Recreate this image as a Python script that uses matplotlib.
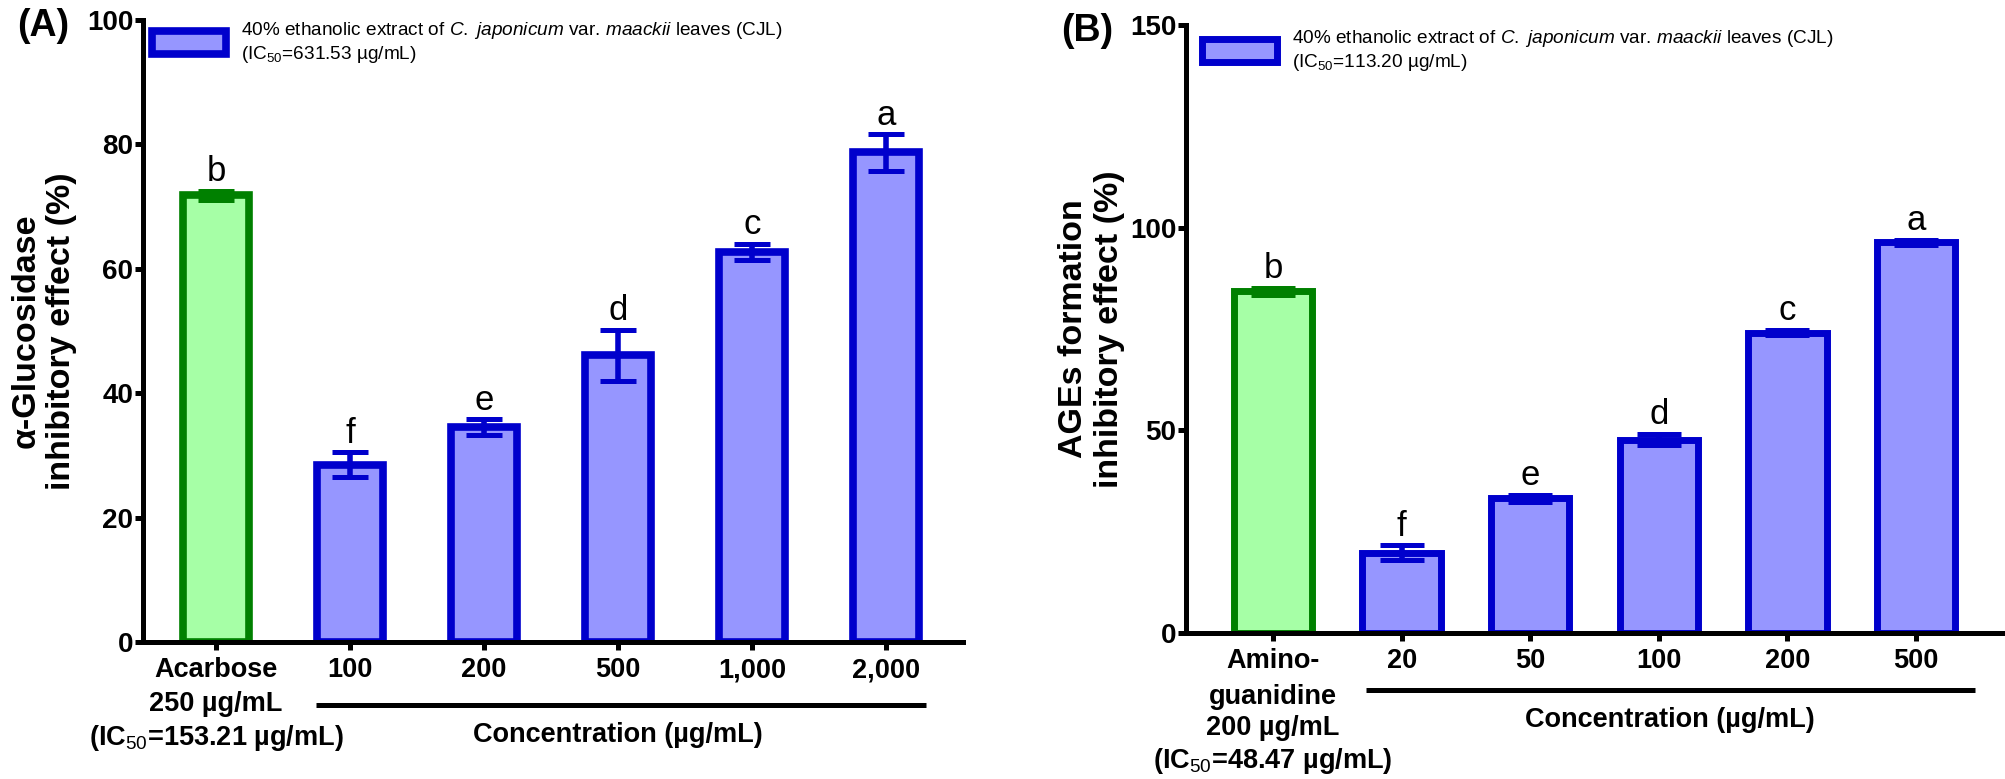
import matplotlib
matplotlib.use("Agg")
import matplotlib.pyplot as plt
from matplotlib.transforms import blended_transform_factory

plt.rcParams['font.family'] = ['Liberation Sans', 'DejaVu Sans']
plt.rcParams['mathtext.fontset'] = 'custom'
plt.rcParams['mathtext.rm'] = 'Liberation Sans'
plt.rcParams['mathtext.it'] = 'Liberation Sans:italic'
plt.rcParams['mathtext.bf'] = 'Liberation Sans:bold'

# panel A: alpha-glucosidase
a_ticks = ['Acarbose', '100', '200', '500', '1,000', '2,000']
a_sub = '250 µg/mL\n(IC$_{50}$=153.21 µg/mL)'
a_mean = [71.8, 28.5, 34.5, 46.1, 62.7, 78.7]
a_sd = [0.7, 2.0, 1.3, 4.1, 1.3, 2.9]
a_letters = ['b', 'f', 'e', 'd', 'c', 'a']
a_legend = ('40% ethanolic extract of $\\mathit{C.}$ $\\mathit{japonicum}$ var. '
            '$\\mathit{maackii}$ leaves (CJL)\n(IC$_{50}$=631.53 µg/mL)')

# panel B: AGEs formation
b_ticks = ['Amino-', '20', '50', '100', '200', '500']
b_sub = 'guanidine\n200 µg/mL\n(IC$_{50}$=48.47 µg/mL)'
b_mean = [84.3, 19.8, 33.2, 47.7, 74.1, 96.4]
b_sd = [0.8, 1.8, 0.9, 1.4, 0.6, 0.6]
b_letters = ['b', 'f', 'e', 'd', 'c', 'a']
b_legend = ('40% ethanolic extract of $\\mathit{C.}$ $\\mathit{japonicum}$ var. '
            '$\\mathit{maackii}$ leaves (CJL)\n(IC$_{50}$=113.20 µg/mL)')

green_fill, green_edge = '#a6ffa6', '#008000'
blue_fill, blue_edge = '#9696ff', '#0000cc'


def panel(ax, ticks, sub, mean, sd, letters, legtxt, ylabel, yticks, xlim,
          width, lw, capsize, sub_y, under, conc, leg_anchor, ylab_x):
    x = list(range(len(mean)))
    ax.bar(x[:1], mean[:1], width, color=green_fill, edgecolor=green_edge, linewidth=lw, zorder=2)
    bars = ax.bar(x[1:], mean[1:], width, color=blue_fill, edgecolor=blue_edge, linewidth=lw,
                  zorder=2, label=legtxt)
    ax.errorbar(x[:1], mean[:1], yerr=sd[:1], fmt='none', ecolor=green_edge,
                elinewidth=4, capsize=capsize, capthick=3.6, zorder=3)
    ax.errorbar(x[1:], mean[1:], yerr=sd[1:], fmt='none', ecolor=blue_edge,
                elinewidth=4, capsize=capsize, capthick=3.6, zorder=3)
    for i in x:
        ax.annotate(letters[i], (i, mean[i] + sd[i]), xytext=(0, 7), textcoords='offset points',
                    ha='center', va='baseline', fontsize=25)

    ax.set_xlim(*xlim)
    ax.set_ylim(yticks[0], yticks[-1])
    ax.set_yticks(yticks)
    ax.set_xticks(x)
    ax.set_xticklabels(ticks, fontsize=19.5, fontweight='bold')
    for t in ax.get_yticklabels():
        t.set_fontsize(20)
        t.set_fontweight('bold')
    ax.tick_params(axis='x', length=6, width=3.6, pad=5)
    ax.tick_params(axis='y', length=6, width=3.6, pad=1)
    for s in ['top', 'right']:
        ax.spines[s].set_visible(False)
    for s in ['left', 'bottom']:
        ax.spines[s].set_linewidth(3.6)

    ax.set_ylabel(ylabel, fontsize=24.5, fontweight='bold')
    ax.yaxis.set_label_coords(ylab_x, 0.5)

    tr = blended_transform_factory(ax.transData, ax.transAxes)
    # rest of the control's label, below its tick label
    ax.text(x[0], sub_y, sub, transform=tr, ha='center', va='center', fontsize=19.5,
            fontweight='bold', linespacing=1.25, multialignment='center')
    # bracket line + "Concentration" label under the extract bars
    ax.plot([under[0], under[1]], [under[2], under[2]], color='black', lw=3.6,
            transform=tr, clip_on=False, solid_capstyle='butt')
    ax.text(conc[0], conc[1], 'Concentration (µg/mL)', transform=tr, ha='center', va='center',
            fontsize=19.5, fontweight='bold')

    ax.legend(handles=[bars], labels=[legtxt], loc='upper left', bbox_to_anchor=leg_anchor,
              frameon=False, fontsize=13.7, handlelength=3.9, handleheight=1.45,
              handletextpad=0.8, borderpad=0, borderaxespad=0)


fig = plt.figure(figsize=(20.06, 7.79), dpi=100)
W, H = 2006, 779
axA = fig.add_axes([143 / W, 1 - 642 / H, 820 / W, 622 / H])
axB = fig.add_axes([1186 / W, 1 - 633 / H, 817 / W, 608 / H])

panel(axA, a_ticks, a_sub, a_mean, a_sd, a_letters, a_legend,
      'α-Glucosidase\ninhibitory effect (%)', [0, 20, 40, 60, 80, 100],
      (-0.544, 5.573), 0.49, 5.5, 13, -0.1286, (0.75, 5.3, -0.101), (3.0, -0.1495),
      (0.011, 1.0), -0.080)
panel(axB, b_ticks, b_sub, b_mean, b_sd, b_letters, b_legend,
      'AGEs formation\ninhibitory effect (%)', [0, 50, 100, 150],
      (-0.677, 5.677), 0.61, 5.0, 15.5, -0.1595, (0.72, 5.46, -0.094), (3.09, -0.143),
      (0.02, 0.995), -0.075)

fig.text(17 / W, 1 - 8 / H, '(A)', fontsize=27, fontweight='bold', va='top', ha='left')
fig.text(1061 / W, 1 - 13 / H, '(B)', fontsize=27, fontweight='bold', va='top', ha='left')

fig.savefig('out.png', dpi=100)
